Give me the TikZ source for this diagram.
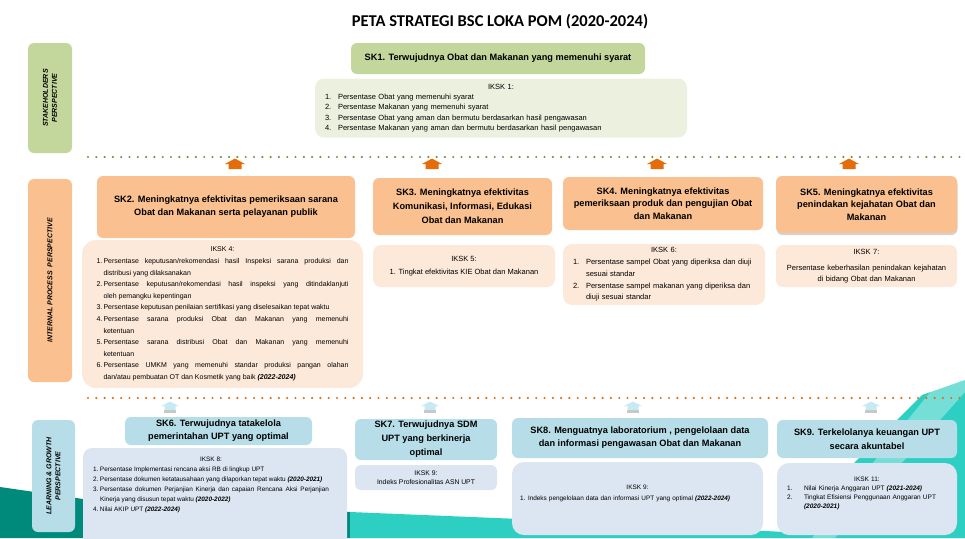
\documentclass[tikz,border=0pt]{standalone}
\usepackage{fontspec}
\setmainfont{Liberation Sans}
\newfontfamily\titlefont{Carlito}
\usetikzlibrary{shadows}

\definecolor{grnhdr}{HTML}{C3D69B}
\definecolor{grnlight}{HTML}{EBF1DE}
\definecolor{orghdr}{HTML}{FAC090}
\definecolor{orglight}{HTML}{FDE9D9}
\definecolor{bluhdr}{HTML}{B7DEE8}
\definecolor{blulight}{HTML}{DCE6F2}
\definecolor{orgarrow}{HTML}{E46C0A}
\definecolor{bluarrow}{HTML}{C6E9F4}
\definecolor{grndot}{HTML}{77933C}
\definecolor{tealdark}{HTML}{008A7C}
\definecolor{tealbright}{HTML}{2CCFC2}

\newcommand{\iitem}[3][12pt]{\par\hangindent=#1\hangafter=1\noindent\makebox[#1][l]{#2}#3}
\newcommand{\yrs}[1]{\textbf{\textit{#1}}}

\begin{document}
\begin{tikzpicture}[x=1pt,y=-1pt,
    hdr/.style={rounded corners=6pt, inner sep=2pt, align=center, font=\fontsize{9.2}{13}\selectfont\bfseries},
    iksk/.style={rounded corners=9pt, inner sep=0pt, align=left},
    persp/.style={rounded corners=6pt, rotate=90, align=center, font=\fontsize{7}{9}\selectfont\bfseries\itshape},
    uparr/.pic={\fill (-10,0) -- (0,-5.5) -- (10,0) -- (6.5,0) -- (6.5,5) -- (-6.5,5) -- (-6.5,0) -- cycle;},
    bluarr/.pic={\fill[black!22] (-6,3.5) rectangle (6,6.5);
        \fill (-9,0) -- (0,-4.5) -- (9,0) -- (5.5,0) -- (5.5,4) -- (-5.5,4) -- (-5.5,0) -- cycle;},
    dotline/.style={line width=2.4pt, line cap=round, dash pattern=on 0pt off 8.3pt}]
    \useasboundingbox (0,0) rectangle (965,538);

    % slide background
    \fill[tealdark] (0,487) -- (90,500) -- (350,512) -- (350,538) -- (0,538) -- cycle;
    \fill[tealbright] (350,512) -- (520,519) -- (785,532) -- (922,395) -- (965,380) -- (965,538) -- (350,538) -- cycle;
    \fill[white, opacity=0.35] (940,380) -- (965,380) -- (965,392) -- (835,538) -- (812,538) -- cycle;

    \node (title) at (500,22) {\titlefont\fontsize{16.5}{19}\selectfont\bfseries PETA STRATEGI BSC LOKA POM (2020-2024)};

    % perspectives
    \node (psh) at (50,98) [persp, fill=grnhdr, minimum width=110, minimum height=44] {STAKEHOLDERS\\PERSPECTIVE};
    \node (pip) at (50,280.5) [persp, fill=orghdr, minimum width=203, minimum height=44] {INTERNAL PROCESS\ \ PERSPECTIVE};
    \node (plg) at (53.5,476) [persp, fill=bluhdr, minimum width=112, minimum height=43] {LEARNING \& GROWTH\\PERSPECTIVE};

    % stakeholders
    \node (sk1) at (498,58.5) [hdr, fill=grnhdr, minimum width=294, minimum height=31] {SK1. Terwujudnya Obat dan Makanan yang memenuhi syarat};
    \node (ik1) at (501,108) [iksk, fill=grnlight, minimum width=372, minimum height=59, text width=352,
        font=\fontsize{7.5}{10.3}\selectfont] {\centerline{IKSK 1:}
        \iitem[13pt]{1.}{Persentase Obat yang memenuhi syarat}
        \iitem[13pt]{2.}{Persentase Makanan yang memenuhi syarat}
        \iitem[13pt]{3.}{Persentase Obat yang aman dan bermutu berdasarkan hasil pengawasan}
        \iitem[13pt]{4.}{Persentase Makanan yang aman dan bermutu berdasarkan hasil pengawasan}\par};

    \coordinate (g0) at (88,157);
    \coordinate (g1) at (965,157);
    \draw[dotline, grndot] (g0) -- (g1);

    \pic[orgarrow] (u2) at (235,164) {uparr};
    \pic[orgarrow] (u3) at (432,164) {uparr};
    \pic[orgarrow] (u4) at (657,164) {uparr};
    \pic[orgarrow] (u5) at (849,164) {uparr};

    % internal process
    \node (sk2) at (226,207) [hdr, fill=orghdr, minimum width=258, minimum height=62] {SK2. Meningkatnya efektivitas pemeriksaan sarana\\Obat dan Makanan serta pelayanan publik};
    \node (sk3) at (462.5,206.5) [hdr, fill=orghdr, minimum width=179, minimum height=57, font=\fontsize{9.2}{14}\selectfont\bfseries] {SK3. Meningkatnya efektivitas\\Komunikasi, Informasi, Edukasi\\Obat dan Makanan};
    \node (sk4) at (663,203.5) [hdr, fill=orghdr, minimum width=200, minimum height=53, font=\fontsize{9.2}{12.5}\selectfont\bfseries] {SK4. Meningkatnya efektivitas\\pemeriksaan produk dan pengujian Obat\\dan Makanan};
    \node (sk5) at (866.5,204.5) [hdr, fill=orghdr, minimum width=181, minimum height=57, font=\fontsize{9.2}{12.5}\selectfont\bfseries,
        drop shadow={shadow xshift=0.5pt, shadow yshift=-2pt, opacity=0.35}] {SK5. Meningkatnya efektivitas\\penindakan kejahatan Obat dan\\Makanan};

    \node (ik4) at (222.5,314) [iksk, rounded corners=14pt, fill=orglight, minimum width=281, minimum height=148, text width=252,
        align=justify, font=\fontsize{7}{11.6}\selectfont] {\centerline{IKSK 4:}
        \iitem[7pt]{1.}{Persentase keputusan/rekomendasi hasil Inspeksi sarana produksi dan\linebreak distribusi yang dilaksanakan}
        \iitem[7pt]{2.}{Persentase keputusan/rekomendasi hasil inspeksi yang ditindaklanjuti\linebreak oleh pemangku kepentingan}
        \iitem[7pt]{3.}{Persentase keputusan penilaian sertifikasi yang diselesaikan tepat waktu}
        \iitem[7pt]{4.}{Persentase sarana produksi Obat dan Makanan yang memenuhi\linebreak ketentuan}
        \iitem[7pt]{5.}{Persentase sarana distribusi Obat dan Makanan yang memenuhi\linebreak ketentuan}
        \iitem[7pt]{6.}{Persentase UMKM yang memenuhi standar produksi pangan olahan\linebreak dan/atau pembuatan OT dan Kosmetik yang baik \yrs{(2022-2024)}}\par};
    \node (ik5) at (464,266) [iksk, rounded corners=8pt, fill=orglight, minimum width=182, minimum height=42, align=center,
        font=\fontsize{7.5}{13}\selectfont] {IKSK 5:\\1. Tingkat efektivitas KIE Obat dan Makanan};
    \node (ik6) at (664,274.5) [iksk, fill=orglight, minimum width=202, minimum height=61, text width=182,
        font=\fontsize{7.5}{11.8}\selectfont] {\centerline{IKSK 6:}
        \iitem[13pt]{1.}{Persentase sampel Obat yang diperiksa dan diuji sesuai standar}
        \iitem[13pt]{2.}{Persentase sampel makanan yang diperiksa dan diuji sesuai standar}\par};
    \node (ik7) at (866.5,266) [iksk, rounded corners=7pt, fill=orglight, minimum width=181, minimum height=42, text width=175, align=center,
        font=\fontsize{7.5}{11}\selectfont] {\vspace*{5pt}IKSK 7:\\Persentase keberhasilan penindakan kejahatan\\di bidang Obat dan Makanan\par};

    \coordinate (o0) at (88,398);
    \coordinate (o1) at (965,398);
    \draw[dotline, orgarrow] (o0) -- (o1);

    \pic[bluarrow] (v6) at (170,406) {bluarr};
    \pic[bluarrow] (v7) at (430,406) {bluarr};
    \pic[bluarrow] (v8) at (633,406) {bluarr};
    \pic[bluarrow] (v9) at (871,406) {bluarr};

    % learning & growth
    \node (sk6) at (218.5,431) [hdr, fill=bluhdr, minimum width=187, minimum height=28] {SK6. Terwujudnya tatakelola\\pemerintahan UPT yang optimal};
    \node (sk7) at (426,439.5) [hdr, fill=bluhdr, minimum width=142, minimum height=41, font=\fontsize{9.2}{14}\selectfont\bfseries] {SK7. Terwujudnya SDM\\UPT yang berkinerja\\optimal};
    \node (sk8) at (640,438) [hdr, fill=bluhdr, minimum width=256, minimum height=40] {SK8. Menguatnya laboratorium , pengelolaan data\\dan informasi pengawasan Obat dan Makanan};
    \node (sk9) at (867,439) [hdr, fill=bluhdr, minimum width=180, minimum height=38, font=\fontsize{9.2}{14.5}\selectfont\bfseries] {SK9. Terkelolanya keuangan UPT\\secara akuntabel};

    \node (ik8) at (215,498) [iksk, fill=blulight, minimum width=264, minimum height=100] {};
    \node (ik8t) at (211,457) [anchor=north, text width=236, inner sep=0pt, font=\fontsize{6.4}{9.9}\selectfont, align=justify] {\centerline{IKSK 8:}
        \iitem[7pt]{1.}{Persentase Implementasi rencana aksi RB di lingkup UPT}
        \iitem[7pt]{2.}{Persentase dokumen ketatausahaan yang dilaporkan tepat waktu \yrs{(2020-2021)}}
        \iitem[7pt]{3.}{Persentase dokumen Perjanjian Kinerja dan capaian Rencana Aksi Perjanjian\linebreak Kinerja yang disusun tepat waktu \yrs{(2020-2022)}}
        \iitem[7pt]{4.}{Nilai AKIP UPT \yrs{(2022-2024)}}\par};
    \node (ik9a) at (426,477.5) [iksk, rounded corners=6pt, fill=blulight, minimum width=142, minimum height=25, align=center,
        font=\fontsize{6.8}{9}\selectfont] {IKSK 9:\\Indeks Profesionalitas ASN UPT};
    \node (ik9b) at (637.5,498.5) [iksk, rounded corners=12pt, fill=blulight, minimum width=251, minimum height=73] {};
    \node (ik9t) at (637.5,485) [anchor=north, text width=235, inner sep=0pt, align=left, font=\fontsize{6.4}{11}\selectfont] {\centerline{IKSK 9:}
        \iitem[8pt]{1.}{Indeks pengelolaan data dan informasi UPT yang optimal \yrs{(2022-2024)}}\par};
    \node (ik11) at (867,499) [iksk, rounded corners=12pt, fill=blulight, minimum width=180, minimum height=72] {};
    \node (ik11t) at (867,477) [anchor=north, text width=160, inner sep=0pt, align=left, font=\fontsize{6.5}{8.8}\selectfont] {\centerline{IKSK 11:}
        \iitem[17pt]{1.}{Nilai Kinerja Anggaran UPT \yrs{(2021-2024)}}
        \iitem[17pt]{2.}{Tingkat Efisiensi Penggunaan Anggaran UPT\newline\yrs{(2020-2021)}}\par};
\end{tikzpicture}
\end{document}
